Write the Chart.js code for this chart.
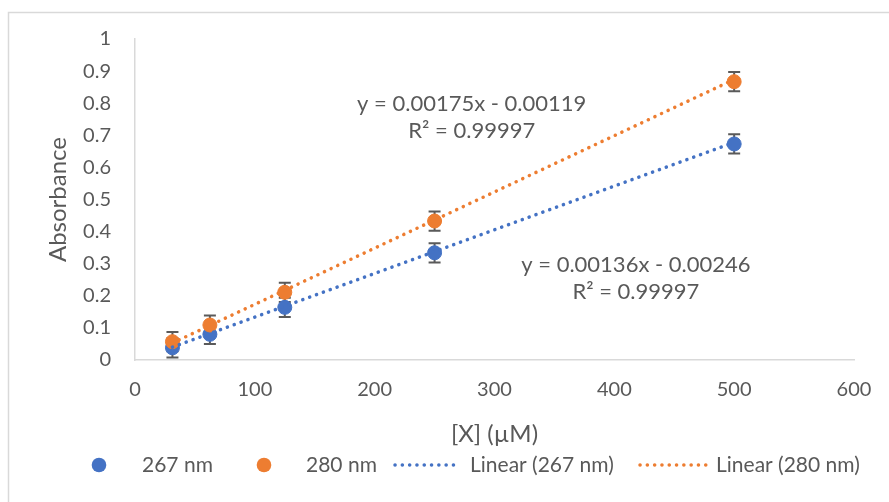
<!DOCTYPE html>
<html>
<head>
<meta charset="utf-8">
<script src="https://cdn.jsdelivr.net/npm/chart.js@4.4.1/dist/chart.umd.min.js"></script>
<style>
  html, body { margin: 0; padding: 0; background: #ffffff; }
  #wrap { position: relative; width: 889px; height: 502px; }
</style>
</head>
<body>
<div id="wrap"><canvas id="c" width="889" height="502"></canvas></div>
<script>
// ---- Data ----
const concentrations = [31.25, 62.5, 125, 250, 500];      // [X] (µM)
const abs267 = [0.038, 0.080, 0.164, 0.334, 0.673];
const abs280 = [0.057, 0.109, 0.211, 0.433, 0.867];
const err267 = [0.03, 0.03, 0.03, 0.03, 0.03];
const err280 = [0.03, 0.03, 0.03, 0.03, 0.03];
const trendX = [31.25, 500];
const trend267 = [0.040, 0.678];
const trend280 = [0.053, 0.874];
const seriesNames = ['267 nm', '280 nm', 'Linear (267 nm)', 'Linear (280 nm)'];
const eq267 = ['y = 0.00136x - 0.00246', 'R\u00B2 = 0.99997'];
const eq280 = ['y = 0.00175x - 0.00119', 'R\u00B2 = 0.99997'];
const xTitle = '[X] (\u00B5M)';
const yTitle = 'Absorbance';

const BLUE = '#4472C4';
const ORANGE = '#ED7D31';
const TEXT = '#595959';
const AXIS = '#d9d9d9';
const FONT = 'Lato, "Open Sans", sans-serif';

const pts = (xs, ys) => xs.map((x, i) => ({ x: x, y: ys[i] }));

const errorBars = {
  id: 'errorBars',
  beforeDatasetsDraw(chart) {
    const { ctx, scales: { x, y } } = chart;
    ctx.save();
    ctx.strokeStyle = '#5a5a5a';
    ctx.lineWidth = 2;
    chart.data.datasets.forEach((ds) => {
      if (!ds.errors) return;
      ds.data.forEach((p, i) => {
        const px = x.getPixelForValue(p.x);
        const y1 = y.getPixelForValue(p.y + ds.errors[i]);
        const y2 = y.getPixelForValue(p.y - ds.errors[i]);
        ctx.beginPath();
        ctx.moveTo(px, y1); ctx.lineTo(px, y2);
        ctx.moveTo(px - 6, y1); ctx.lineTo(px + 6, y1);
        ctx.moveTo(px - 6, y2); ctx.lineTo(px + 6, y2);
        ctx.stroke();
      });
    });
    ctx.restore();
  }
};

const decorations = {
  id: 'decorations',
  afterDraw(chart) {
    const { ctx, scales: { x, y } } = chart;
    ctx.save();
    // outer chart border
    ctx.strokeStyle = AXIS;
    ctx.lineWidth = 1.5;
    ctx.strokeRect(8.5, 12.5, 1000, 1000);

    // equations
    ctx.fillStyle = TEXT;
    ctx.font = '22px ' + FONT;
    ctx.textAlign = 'center';
    ctx.textBaseline = 'middle';
    const ex1 = x.getPixelForValue(281), ey1 = y.getPixelForValue(0.797);
    ctx.fillText(eq280[0], ex1, ey1);
    ctx.fillText(eq280[1], ex1, ey1 + 27);
    const ex2 = x.getPixelForValue(418), ey2 = y.getPixelForValue(0.296);
    ctx.fillText(eq267[0], ex2, ey2);
    ctx.fillText(eq267[1], ex2, ey2 + 27);

    // legend
    const ly = 465;
    ctx.font = '21px ' + FONT;
    ctx.textAlign = 'left';
    ctx.fillStyle = BLUE;
    ctx.beginPath(); ctx.arc(99, ly, 7.3, 0, Math.PI * 2); ctx.fill();
    ctx.fillStyle = ORANGE;
    ctx.beginPath(); ctx.arc(264, ly, 7.3, 0, Math.PI * 2); ctx.fill();
    ctx.lineCap = 'round';
    ctx.lineWidth = 3.5;
    ctx.setLineDash([0.1, 7.2]);
    ctx.strokeStyle = BLUE;
    ctx.beginPath(); ctx.moveTo(395, ly); ctx.lineTo(460, ly); ctx.stroke();
    ctx.strokeStyle = ORANGE;
    ctx.beginPath(); ctx.moveTo(640, ly); ctx.lineTo(706, ly); ctx.stroke();
    ctx.setLineDash([]);
    ctx.fillStyle = TEXT;
    ctx.fillText(seriesNames[0], 142, ly);
    ctx.fillText(seriesNames[1], 306, ly);
    ctx.fillText(seriesNames[2], 470, ly);
    ctx.fillText(seriesNames[3], 716, ly);
    ctx.restore();
  }
};

new Chart(document.getElementById('c'), {
  type: 'scatter',
  data: {
    datasets: [
      {
        label: seriesNames[2], type: 'line', data: pts(trendX, trend267),
        borderColor: BLUE, borderWidth: 3.5, borderDash: [0.1, 7.2], borderCapStyle: 'round',
        pointRadius: 0, fill: false, order: 0
      },
      {
        label: seriesNames[3], type: 'line', data: pts(trendX, trend280),
        borderColor: ORANGE, borderWidth: 3.5, borderDash: [0.1, 7.2], borderCapStyle: 'round',
        pointRadius: 0, fill: false, order: 1
      },
      {
        label: seriesNames[1], data: pts(concentrations, abs280), errors: err280,
        backgroundColor: ORANGE, borderColor: ORANGE, pointRadius: 7, borderWidth: 1, order: 2
      },
      {
        label: seriesNames[0], data: pts(concentrations, abs267), errors: err267,
        backgroundColor: BLUE, borderColor: BLUE, pointRadius: 7, borderWidth: 1, order: 3
      }
    ]
  },
  options: {
    responsive: false,
    animation: false,
    layout: { padding: { left: 0, right: 35, top: 39, bottom: 0 } },
    plugins: { legend: { display: false }, tooltip: { enabled: false } },
    scales: {
      x: {
        type: 'linear', min: 0, max: 600,
        ticks: { stepSize: 100, color: TEXT, font: { family: FONT, size: 20 }, padding: 18, maxRotation: 0 },
        grid: { display: false, drawTicks: false },
        border: { display: true, color: AXIS, width: 1.5 },
        title: { display: true, text: xTitle, color: TEXT, font: { family: FONT, size: 24 }, padding: { top: 0, bottom: 53 } },
        afterFit(s) { s.height = 142; s.paddingLeft = 0; s.paddingRight = 0; }
      },
      y: {
        min: 0, max: 1,
        ticks: {
          stepSize: 0.1, color: TEXT, font: { family: FONT, size: 20 }, padding: 24,
          callback: (v) => String(Number(Number(v).toFixed(2)))
        },
        grid: { display: false, drawTicks: false },
        border: { display: true, color: AXIS, width: 1.5 },
        title: { display: true, text: yTitle, color: TEXT, font: { family: FONT, size: 24 }, padding: { top: 44, bottom: 0 } },
        afterFit(s) { s.width = 135; s.paddingTop = 0; s.paddingBottom = 0; }
      }
    }
  },
  plugins: [errorBars, decorations]
});
</script>
</body>
</html>
